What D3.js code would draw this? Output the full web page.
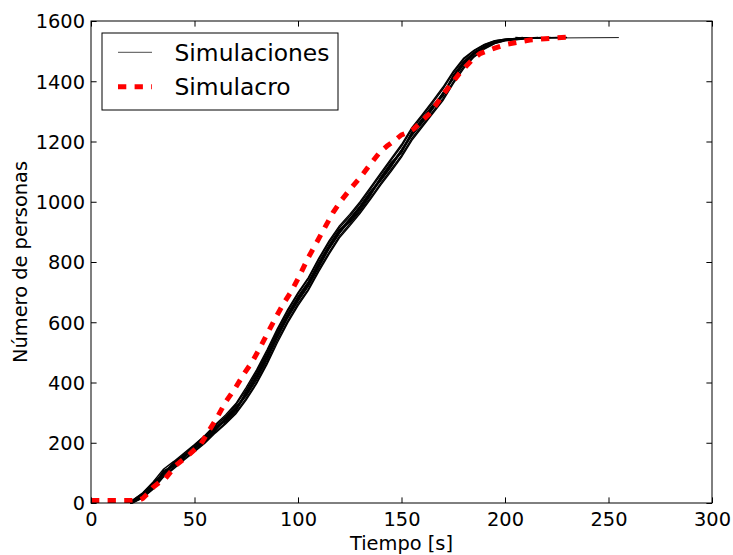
<!DOCTYPE html>
<html><head><meta charset="utf-8">
<script src="https://cdn.jsdelivr.net/npm/d3@7"></script>
<style>body{margin:0;background:#fff}svg{display:block}text{font-family:"DejaVu Sans",sans-serif;fill:#000}</style>
</head><body><svg id="c" width="733" height="555"></svg>
<script>
// ---- data ----
const xTicks = [0, 50, 100, 150, 200, 250, 300];
const yTicks = [0, 200, 400, 600, 800, 1000, 1200, 1400, 1600];
const seriesNames = ["Simulaciones", "Simulacro"];

const simT = [19,20,25,30,35,40,45,50,55,60,65,70,75,80,85,90,95,100,105,110,115,120,125,130,135,140,145,150,155,160,165,170,175,180,185,190,195,200,210];
const sim1 = [0,4,25,58,100,126,155,182,212,246,276,312,362,418,484,555,620,676,725,790,848,900,938,980,1027,1075,1121,1168,1225,1268,1312,1357,1413,1460,1492,1515,1530,1537,1543];
const sim2 = [0,8,34,70,112,138,166,194,224,260,292,330,384,442,508,578,642,698,748,812,870,920,958,1000,1048,1096,1143,1190,1246,1289,1334,1380,1433,1476,1503,1522,1535,1540,1544];
const sim3 = [0,1,17,46,86,114,143,170,198,232,262,296,342,396,460,532,598,655,706,768,826,880,920,962,1008,1056,1101,1148,1204,1248,1292,1336,1392,1442,1480,1507,1525,1534,1541];
const sim4 = [0,5,28,62,96,130,160,178,206,240,282,320,356,408,474,550,616,670,720,782,844,895,942,986,1034,1070,1116,1172,1220,1262,1308,1362,1408,1455,1489,1513,1528,1537,1543];
const sim5 = [0,3,23,53,108,122,150,188,218,254,270,304,372,430,496,566,628,686,735,800,856,908,932,972,1020,1082,1130,1162,1232,1276,1320,1350,1420,1466,1496,1517,1532,1538,1543];
const sim6 = [0,9,32,67,100,134,162,192,222,256,286,326,376,436,502,572,636,694,744,808,864,914,952,994,1042,1090,1138,1184,1240,1284,1328,1374,1428,1472,1501,1521,1534,1540,1544];
const sim7 = [0,0,18,49,90,118,146,173,202,236,266,300,348,400,466,540,604,662,710,775,832,886,926,968,1013,1062,1107,1154,1210,1254,1298,1342,1398,1448,1483,1509,1526,1535,1542];
const sim8 = [0,4,26,57,104,127,154,181,211,247,277,312,363,420,486,556,622,678,727,792,850,902,941,982,1029,1077,1123,1170,1226,1269,1313,1358,1414,1461,1493,1515,1530,1537,1543];
const sim9 = [0,6,29,60,98,129,158,185,215,250,280,316,366,424,490,560,626,682,730,794,852,904,944,984,1032,1080,1126,1172,1229,1272,1316,1360,1417,1463,1494,1516,1531,1538,1543];
const sim10 = [0,2,22,55,94,123,151,179,208,243,273,308,358,414,480,550,614,672,721,786,844,896,935,977,1024,1072,1118,1165,1221,1264,1308,1353,1410,1458,1490,1514,1529,1537,1543];
const simEndT = [255, 208, 214, 218, 226, 211, 222, 216, 230, 205];
const simEndN = [1545, 1545, 1545, 1545, 1545, 1545, 1545, 1545, 1545, 1545];

const redT = [0,5,10,15,20,23,25,28,30,33,36,41,47,53,57,61,65,70,74,78,82,86.5,90,93,97,101,105,109,113,117,121,125,130,135,139.6,143,146,150,153,156,160,164,170,178,184,188,195,201,212,225,232];
const redN = [8,8,8,8,8,9,15,35,52,68,82,125,158,195,240,285,335,385,430,470,520,580,625,662,705,758,815,865,915,965,1005,1040,1080,1125,1165,1185,1200,1222,1230,1242,1270,1295,1355,1426,1470,1492,1510,1523,1537,1544,1547];

// ---- chart ----
const svg = d3.select("#c");
const L = 91, R = 712, T = 21, B = 503;
const x = d3.scaleLinear().domain([0, 300]).range([L, R]);
const y = d3.scaleLinear().domain([0, 1600]).range([B, T]);
const tickLen = 5.6;

const line = d3.line().x(d => x(d[0])).y(d => y(d[1]));

const sims = [sim1, sim2, sim3, sim4, sim5, sim6, sim7, sim8, sim9, sim10];
const g = svg.append("g");
sims.forEach((s, i) => {
  const pts = simT.map((t, j) => [t, s[j]]);
  pts.push([simEndT[i], simEndN[i]]);
  g.append("path").attr("d", line(pts)).attr("fill", "none")
    .attr("stroke", "#000").attr("stroke-width", i === 0 ? 0.9 : 1.4);
});
g.append("path").attr("d", line(redT.map((t, j) => [t, redN[j]])))
  .attr("fill", "none").attr("stroke", "#ff0000").attr("stroke-width", 5)
  .attr("stroke-dasharray", "8.3,8.3");

// axes (ticks inward on all sides)
function styleAxis(sel) { sel.select(".domain").remove(); sel.selectAll("line").attr("stroke", "#000").attr("stroke-width", 1); }
const ax = svg.append("g").attr("transform", `translate(0,${B})`)
  .call(d3.axisBottom(x).tickValues(xTicks).tickSize(-tickLen).tickPadding(0).tickFormat(d3.format("d")));
styleAxis(ax);
ax.selectAll("text").attr("y", 23).attr("dy", null).attr("font-size", 19.4).attr("font-family", "DejaVu Sans");
const axT = svg.append("g").attr("transform", `translate(0,${T})`)
  .call(d3.axisTop(x).tickValues(xTicks).tickSize(-tickLen).tickFormat(""));
styleAxis(axT);
const ay = svg.append("g").attr("transform", `translate(${L},0)`)
  .call(d3.axisLeft(y).tickValues(yTicks).tickSize(-tickLen).tickPadding(0).tickFormat(d3.format("d")));
styleAxis(ay);
ay.selectAll("text").attr("x", -6).attr("dy", "0.36em").attr("font-size", 19.4).attr("font-family", "DejaVu Sans");
const ayR = svg.append("g").attr("transform", `translate(${R},0)`)
  .call(d3.axisRight(y).tickValues(yTicks).tickSize(-tickLen).tickFormat(""));
styleAxis(ayR);
svg.selectAll(".tick text").attr("fill", "#000");

svg.append("rect").attr("x", L).attr("y", T).attr("width", R - L).attr("height", B - T)
  .attr("fill", "none").attr("stroke", "#000").attr("stroke-width", 1);

// labels
svg.append("text").attr("x", (L + R) / 2).attr("y", 549.5).attr("text-anchor", "middle")
  .attr("font-size", 19.4).text("Tiempo [s]");
svg.append("text").attr("transform", `translate(26.5,${(T + B) / 2}) rotate(-90)`)
  .attr("text-anchor", "middle").attr("font-size", 19.4).text("Número de personas");

// legend
const lg = svg.append("g");
lg.append("rect").attr("x", 102).attr("y", 33).attr("width", 236).attr("height", 77)
  .attr("fill", "#fff").attr("stroke", "#000").attr("stroke-width", 1);
lg.append("line").attr("x1", 118).attr("x2", 152).attr("y1", 52.3).attr("y2", 52.3)
  .attr("stroke", "#000").attr("stroke-width", 0.7);
lg.append("line").attr("x1", 118).attr("x2", 152).attr("y1", 86.7).attr("y2", 86.7)
  .attr("stroke", "#ff0000").attr("stroke-width", 5).attr("stroke-dasharray", "8.3,8.3");
lg.append("text").attr("x", 174.5).attr("y", 60.5).attr("font-size", 23.4).text(seriesNames[0]);
lg.append("text").attr("x", 174.5).attr("y", 95).attr("font-size", 23.4).text(seriesNames[1]);
</script></body></html>
